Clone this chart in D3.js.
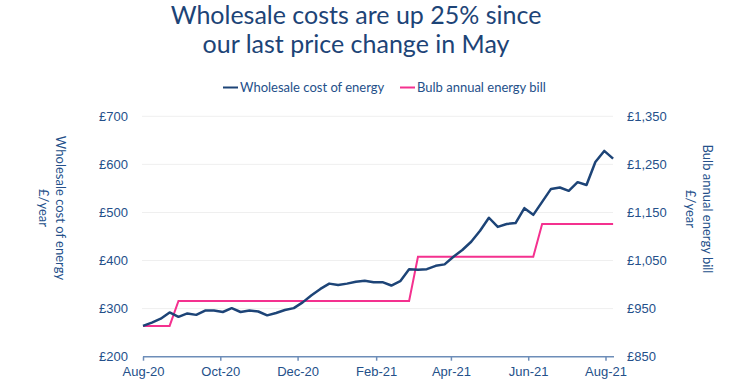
<!DOCTYPE html>
<html>
<head>
<meta charset="utf-8">
<script src="https://cdn.jsdelivr.net/npm/d3@7"></script>
<style>
body{margin:0;background:#fff;}
svg{font-family:Lato,"Open Sans",sans-serif;}
</style>
</head>
<body>
<div id="chart"></div>
<script>
// weekly points, first week starting 1 Aug 2020
var startWeek = "2020-08-01";
var wholesale = [264,271,279,292,283,290,287,296,296,293,301,293,296,294,286,291,297,301,313,328,
    341,352,349,352,356,358,355,355,348,357,382,381,382,389,392,408,422,439,462,489,
    470,476,478,509,495,522,549,552,545,563,557,605,628,612];
var bulbBill = [914,914,914,914,966,966,966,966,966,966,966,966,966,966,966,966,966,966,966,966,
    966,966,966,966,966,966,966,966,966,966,966,1058,1058,1058,1058,1058,1058,1058,1058,1058,
    1058,1058,1058,1058,1058,1126,1126,1126,1126,1126,1126,1126,1126,1126];
var leftTicks = [200,300,400,500,600,700];
var rightTicks = [850,950,1050,1150,1250,1350];
var xTicks = ["2020-08-01","2020-10-01","2020-12-01","2021-02-01","2021-04-01","2021-06-01","2021-08-01"];
var seriesNames = ["Wholesale cost of energy","Bulb annual energy bill"];

var navy = "#1d4477", pink = "#f4318f", txt = "#24508a";
var parse = d3.timeParse("%Y-%m-%d");
var t0 = parse(startWeek);
var dates = wholesale.map(function(d,i){ return d3.timeDay.offset(t0, 7*i); });

var svg = d3.select("#chart").append("svg")
    .attr("width", 730)
    .attr("height", 384);

var x = d3.scaleTime()
    .domain([parse("2020-08-01"), parse("2021-08-01")])
    .range([143, 605.5]);
var yL = d3.scaleLinear().domain([200,700]).range([356.7,116.3]);
var yR = d3.scaleLinear().domain([850,1350]).range([356.7,116.3]);

// title
svg.append("text")
    .attr("x", 356).attr("y", 24)
    .attr("text-anchor","middle")
    .attr("font-size", 25)
    .attr("fill", navy)
    .text("Wholesale costs are up 25% since");
svg.append("text")
    .attr("x", 356).attr("y", 53)
    .attr("text-anchor","middle")
    .attr("font-size", 25)
    .attr("fill", navy)
    .text("our last price change in May");

// legend
var leg = [[223, navy],[400, pink]];
leg.forEach(function(l,i){
    svg.append("line")
        .attr("x1", l[0]).attr("x2", l[0]+15)
        .attr("y1", 87.5).attr("y2", 87.5)
        .attr("stroke", l[1]).attr("stroke-width", 2);
    svg.append("text")
        .attr("x", l[0]+17).attr("y", 92)
        .attr("font-size", 13)
        .attr("fill", txt)
        .text(seriesNames[i]);
});

// gridlines
svg.append("g").selectAll("line")
    .data(leftTicks.slice(1))
    .enter().append("line")
    .attr("x1", 142).attr("x2", 613)
    .attr("y1", function(d){ return yL(d); })
    .attr("y2", function(d){ return yL(d); })
    .attr("stroke", "#efefef").attr("stroke-width", 1);

// left axis
var gl = svg.append("g")
    .attr("transform", "translate(128,0)")
    .call(d3.axisLeft(yL).tickValues(leftTicks).tickSize(0).tickPadding(0)
        .tickFormat(function(d){ return "£" + d; }));
gl.select(".domain").remove();
gl.selectAll("text").attr("font-size", 13).attr("fill", txt).attr("font-family", "inherit");

// right axis
var gr = svg.append("g")
    .attr("transform", "translate(627,0)")
    .call(d3.axisRight(yR).tickValues(rightTicks).tickSize(0).tickPadding(0)
        .tickFormat(function(d){ return "£" + d3.format(",")(d); }));
gr.select(".domain").remove();
gr.selectAll("text").attr("font-size", 13).attr("fill", txt).attr("font-family", "inherit");

// x axis
var gx = svg.append("g")
    .attr("transform", "translate(0,356.7)")
    .call(d3.axisBottom(x).tickValues(xTicks.map(parse)).tickSize(4).tickSizeOuter(0).tickPadding(6)
        .tickFormat(d3.timeFormat("%b-%y")));
gx.select(".domain").attr("d", "M143,0H614").attr("stroke", "#6d8db8").attr("stroke-width", 1.5);
gx.selectAll(".tick line").attr("stroke", "#6d8db8").attr("stroke-width", 1.5);
gx.selectAll("text").attr("font-size", 13).attr("fill", txt).attr("font-family", "inherit");

// axis titles
var lt = svg.append("text")
    .attr("transform", "translate(56,208) rotate(90)")
    .attr("text-anchor", "middle")
    .attr("font-size", 13)
    .attr("fill", txt);
lt.append("tspan").attr("x", 0).attr("dy", 0).text("Wholesale cost of energy");
lt.append("tspan").attr("x", 0).attr("dy", 17).text("£/year");

var rt = svg.append("text")
    .attr("transform", "translate(703,209) rotate(90)")
    .attr("text-anchor", "middle")
    .attr("font-size", 13)
    .attr("fill", txt);
rt.append("tspan").attr("x", 0).attr("dy", 0).text("Bulb annual energy bill");
rt.append("tspan").attr("x", 0).attr("dy", 17).text("£/year");

// lines
var lineL = d3.line()
    .x(function(d,i){ return x(dates[i]); })
    .y(function(d){ return yL(d); });
var lineR = d3.line()
    .x(function(d,i){ return x(dates[i]); })
    .y(function(d){ return yR(d); });

svg.append("path")
    .attr("d", lineR(bulbBill))
    .attr("fill", "none")
    .attr("stroke", pink)
    .attr("stroke-width", 2);
svg.append("path")
    .attr("d", lineL(wholesale))
    .attr("fill", "none")
    .attr("stroke", navy)
    .attr("stroke-width", 2.5)
    .attr("stroke-linejoin", "round");
</script>
</body>
</html>
